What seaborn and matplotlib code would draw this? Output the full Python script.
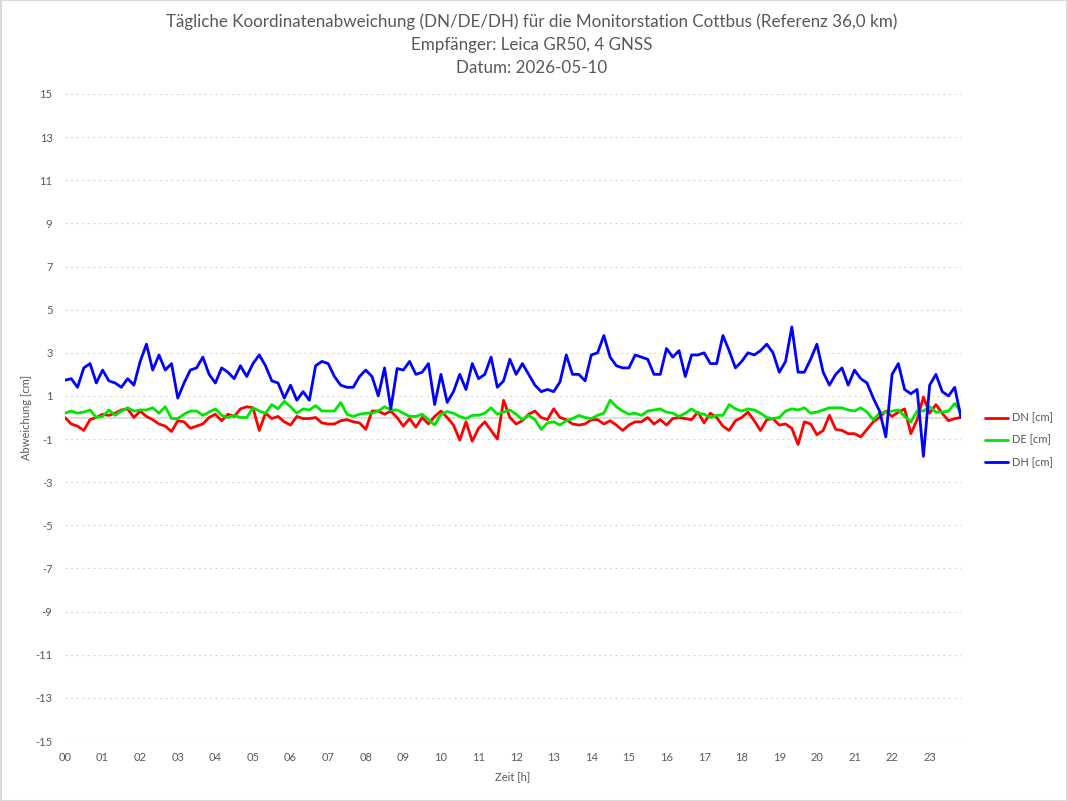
import numpy as np
import pandas as pd
import matplotlib
matplotlib.use("Agg")
import matplotlib.pyplot as plt
import seaborn as sns
from matplotlib.lines import Line2D

# ---- data (10-minute samples, hours 0 .. 23:50) ----
dn = [0.0, -0.3, -0.4, -0.6, -0.1, 0.0, 0.15, 0.1, 0.2, 0.35, 0.4, 0.0, 0.3, 0.05, -0.1, -0.3, -0.4, -0.65, -0.15, -0.2, -0.5, -0.4, -0.3, 0.0, 0.15,
      -0.15, 0.15, 0.05, 0.4, 0.5, 0.45, -0.6, 0.2, -0.05, 0.05, -0.2, -0.35, 0.05, -0.05, -0.05, 0.0, -0.25, -0.3, -0.3, -0.15, -0.1, -0.2, -0.25, -0.55,
      0.3, 0.3, 0.15, 0.3, 0.0, -0.4, -0.05, -0.45, 0.0, -0.3, 0.05, 0.3, 0.0, -0.35, -1.05, -0.2, -1.1, -0.5, -0.2, -0.6, -1.0, 0.8, 0.0, -0.3,
      -0.15, 0.15, 0.3, 0.0, -0.1, 0.4, 0.0, -0.1, -0.3, -0.35, -0.3, -0.1, -0.1, -0.3, -0.15, -0.35, -0.6, -0.35, -0.2, -0.2, 0.0, -0.3, -0.1, -0.35,
      -0.05, 0.0, -0.05, -0.1, 0.25, -0.25, 0.2, 0.0, -0.4, -0.6, -0.15, 0.0, 0.25, -0.15, -0.6, -0.1, -0.05, -0.35, -0.3, -0.5, -1.25, -0.2, -0.3, -0.8,
      -0.6, 0.1, -0.55, -0.6, -0.75, -0.75, -0.9, -0.55, -0.2, 0.0, 0.3, 0.05, 0.25, 0.4, -0.75, -0.1, 0.95, 0.2, 0.6, 0.2, -0.15, -0.05, 0.0]

de = [0.2, 0.3, 0.2, 0.25, 0.35, 0.0, 0.05, 0.35, 0.1, 0.3, 0.45, 0.3, 0.35, 0.35, 0.45, 0.2, 0.5, -0.05, -0.05, 0.15, 0.3, 0.3, 0.1, 0.25, 0.4,
      0.1, 0.0, 0.1, 0.0, 0.0, 0.45, 0.3, 0.2, 0.6, 0.4, 0.75, 0.5, 0.2, 0.4, 0.35, 0.55, 0.3, 0.3, 0.3, 0.7, 0.15, 0.05, 0.15, 0.2,
      0.2, 0.3, 0.5, 0.35, 0.35, 0.2, 0.05, 0.05, 0.15, -0.1, -0.35, 0.15, 0.27, 0.2, 0.05, -0.05, 0.1, 0.1, 0.2, 0.45, 0.15, 0.25, 0.35, 0.15,
      -0.1, 0.1, -0.1, -0.55, -0.25, -0.2, -0.35, -0.15, -0.05, 0.1, 0.0, -0.05, 0.1, 0.2, 0.8, 0.5, 0.3, 0.15, 0.2, 0.1, 0.3, 0.35, 0.4, 0.25,
      0.2, 0.05, 0.2, 0.4, 0.2, 0.15, 0.0, 0.1, 0.1, 0.6, 0.4, 0.3, 0.4, 0.35, 0.2, 0.0, -0.05, 0.0, 0.3, 0.4, 0.35, 0.45, 0.2, 0.25,
      0.35, 0.45, 0.45, 0.45, 0.35, 0.3, 0.45, 0.25, -0.1, 0.2, 0.25, 0.3, 0.35, 0.05, -0.2, 0.3, 0.3, 0.5, 0.25, 0.25, 0.3, 0.65, 0.25]

dh = [1.73, 1.8, 1.4, 2.3, 2.5, 1.6, 2.2, 1.7, 1.6, 1.4, 1.8, 1.5, 2.6, 3.4, 2.2, 2.9, 2.2, 2.5, 0.9, 1.6, 2.2, 2.3, 2.8, 2.0, 1.6,
      2.3, 2.1, 1.8, 2.4, 1.9, 2.5, 2.9, 2.4, 1.7, 1.6, 0.9, 1.5, 0.8, 1.2, 0.8, 2.4, 2.6, 2.5, 1.9, 1.5, 1.4, 1.4, 1.9, 2.2,
      1.9, 1.0, 2.3, 0.4, 2.27, 2.2, 2.6, 2.0, 2.1, 2.5, 0.6, 2.0, 0.7, 1.2, 2.0, 1.3, 2.5, 1.8, 2.0, 2.8, 1.4, 1.7, 2.7, 2.0,
      2.5, 2.0, 1.5, 1.2, 1.3, 1.2, 1.65, 2.9, 2.0, 2.0, 1.7, 2.9, 3.0, 3.8, 2.8, 2.4, 2.3, 2.3, 2.9, 2.8, 2.7, 2.0, 2.0, 3.2,
      2.8, 3.1, 1.9, 2.9, 2.9, 3.0, 2.5, 2.5, 3.8, 3.1, 2.3, 2.6, 3.0, 2.9, 3.1, 3.4, 3.0, 2.1, 2.6, 4.2, 2.1, 2.1, 2.7, 3.4,
      2.1, 1.5, 2.0, 2.3, 1.5, 2.2, 1.8, 1.6, 0.9, 0.3, -0.9, 2.0, 2.5, 1.3, 1.1, 1.3, -1.8, 1.5, 2.0, 1.2, 1.0, 1.4, 0.0]

series_names = ["DN [cm]", "DE [cm]", "DH [cm]"]
series_colors = ["#ff0000", "#00e600", "#0000ff"]
hour_labels = [f"{h:02d}" for h in range(24)]
y_ticks = list(range(-15, 16, 2))

title_lines = ["Tägliche Koordinatenabweichung (DN/DE/DH) für die Monitorstation Cottbus (Referenz 36,0 km)",
               "Empfänger: Leica GR50, 4 GNSS",
               "Datum: 2026-05-10"]

time_h = np.arange(len(dn)) / 6.0
df = pd.DataFrame({
    "Zeit": np.concatenate([time_h] * 3),
    "Wert": np.concatenate([dn, de, dh]),
    "Serie": np.repeat(series_names, len(dn)),
})

sns.set_style("white")
plt.rcParams["font.family"] = ["Lato", "DejaVu Sans"]

fig = plt.figure(figsize=(10.68, 8.01), dpi=100)
ax = fig.add_axes([65 / 1068, 1 - 741 / 801, (961 - 65) / 1068, (741 - 94) / 801])

grey = "#595959"
for yv in y_ticks:
    ax.axhline(yv, color="#d9d9d9", lw=0.8, ls=(0, (2, 3)), zorder=0)
ax.axhline(0, color="#d9d9d9", lw=1.2, zorder=0.5)

sns.lineplot(data=df, x="Zeit", y="Wert", hue="Serie", palette=dict(zip(series_names, series_colors)),
             linewidth=2.0, ax=ax, legend=False, sort=False)

ax.set_xlim(0, time_h[-1])
ax.set_ylim(-15, 15)
ax.set_xticks(range(24))
ax.set_xticklabels(hour_labels)
ax.set_yticks(y_ticks)
ax.set_yticklabels([str(v) for v in y_ticks])
ax.tick_params(axis="both", length=0, labelsize=8, labelcolor=grey)
ax.tick_params(axis="y", pad=9)
ax.tick_params(axis="x", pad=8)
for s in ax.spines.values():
    s.set_visible(False)
ax.set_xlabel("Zeit [h]", fontsize=8, color=grey, labelpad=6)
ax.set_ylabel("Abweichung [cm]", fontsize=8, color=grey)
ax.yaxis.set_label_coords(-33 / 896, 0.5)

ys = [22, 45, 68]
for t, yp in zip(title_lines, ys):
    fig.text(532 / 1068, 1 - yp / 801, t, ha="center", va="center", fontsize=12.25, color=grey)

handles = [Line2D([0], [0], color=c, lw=2) for c in series_colors]
fig.legend(handles, series_names, loc="center left", bbox_to_anchor=(975 / 1068, 1 - 440 / 801),
           frameon=False, fontsize=8, labelcolor=grey, handlelength=2.1, labelspacing=1.0, handletextpad=0.35)

fig.patches.append(plt.Rectangle((0.0005, 0.0005), 0.999, 0.999, transform=fig.transFigure,
                                 fill=False, edgecolor="#d9d9d9", lw=1.5))

fig.savefig("out.png", dpi=100)
